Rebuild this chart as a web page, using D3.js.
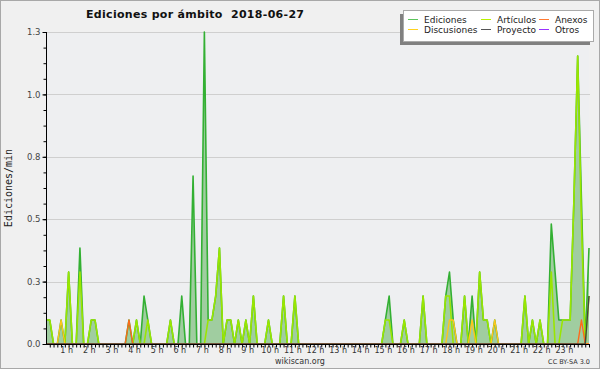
<!DOCTYPE html>
<html>
<head>
<meta charset="utf-8">
<script src="https://cdn.jsdelivr.net/npm/d3@7"></script>
<style>
  body { margin: 0; background: #fff; }
  svg { display: block; font-family: "DejaVu Sans", sans-serif; }
</style>
</head>
<body>
<svg id="chart" width="600" height="370"></svg>
<script>
// 10-minute slots, 0 h .. 24 h (145 points, 12 per row = 2 h), edits per minute
const title = "Ediciones por ámbito  2018-06-27";
const yLabel = "Ediciones/min";
const hourLabels = ["1 h","2 h","3 h","4 h","5 h","6 h","7 h","8 h","9 h","10 h","11 h","12 h",
  "13 h","14 h","15 h","16 h","17 h","18 h","19 h","20 h","21 h","22 h","23 h"];
const yTicks = [0, 0.26, 0.52, 0.78, 1.04, 1.3];

const ediciones = [
  0.1,0.1,0,0,0.1,0,0.3,0,0,0.4,0,0,
  0.1,0.1,0,0,0,0,0,0,0,0,0.1,0,
  0.1,0,0.2,0.1,0,0,0,0,0,0.1,0,0,
  0.2,0,0,0.7,0,0,1.3,0.1,0.1,0.2,0.4,0,
  0.1,0.1,0,0.1,0,0.1,0,0.2,0,0,0,0.1,
  0,0,0,0.2,0,0,0.2,0,0,0,0,0,
  0,0,0,0,0,0,0,0,0,0,0,0,
  0,0,0,0,0,0,0.1,0.2,0,0,0,0.1,
  0,0,0,0,0.2,0,0,0,0,0,0.2,0.3,
  0.1,0,0,0.2,0,0.2,0,0.3,0.1,0.1,0,0.1,
  0,0,0,0,0,0,0,0.2,0,0.1,0,0.1,
  0,0,0.5,0.3,0.1,0.1,0.1,0.1,0.6,1.2,0.6,0,
  0.4
];
const articulos = [
  0.1,0.1,0,0,0,0,0.3,0,0,0.3,0,0,
  0.1,0.1,0,0,0,0,0,0,0,0,0,0,
  0.1,0,0,0.1,0,0,0,0,0,0.1,0,0,
  0,0,0,0,0,0,0,0.1,0.1,0.2,0.4,0,
  0.1,0.1,0,0.1,0,0.1,0,0.2,0,0,0,0.1,
  0,0,0,0.2,0,0,0.2,0,0,0,0,0,
  0,0,0,0,0,0,0,0,0,0,0,0,
  0,0,0,0,0,0,0.1,0.1,0,0,0,0.1,
  0,0,0,0,0.2,0,0,0,0,0,0.2,0.2,
  0,0,0,0.2,0,0,0,0.3,0.1,0.1,0,0,
  0,0,0,0,0,0,0,0.2,0,0.1,0,0.1,
  0,0,0.3,0,0,0.1,0.1,0.1,0.6,1.2,0.5,0,
  0.2
];
const discusiones = [
  0,0,0,0,0.1,0,0,0,0,0,0,0,
  0,0,0,0,0,0,0,0,0,0,0,0,
  0,0,0,0,0,0,0,0,0,0,0,0,
  0,0,0,0,0,0,0,0,0,0,0,0,
  0,0,0,0,0,0,0,0,0,0,0,0,
  0,0,0,0,0,0,0,0,0,0,0,0,
  0,0,0,0,0,0,0,0,0,0,0,0,
  0,0,0,0,0,0,0,0,0,0,0,0,
  0,0,0,0,0,0,0,0,0,0,0,0.1,
  0.1,0,0,0,0,0.1,0,0,0,0,0,0.1,
  0,0,0,0,0,0,0,0,0,0,0,0,
  0,0,0,0,0,0,0,0,0,0,0,0,
  0
];
const anexos = [
  0,0,0,0,0,0,0,0,0,0,0,0,
  0,0,0,0,0,0,0,0,0,0,0.1,0,
  0,0,0,0,0,0,0,0,0,0,0,0,
  0,0,0,0,0,0,0,0,0,0,0,0,
  0,0,0,0,0,0,0,0,0,0,0,0,
  0,0,0,0,0,0,0,0,0,0,0,0,
  0,0,0,0,0,0,0,0,0,0,0,0,
  0,0,0,0,0,0,0,0,0,0,0,0,
  0,0,0,0,0,0,0,0,0,0,0,0,
  0,0,0,0,0,0,0,0,0,0,0,0,
  0,0,0,0,0,0,0,0,0,0,0,0,
  0,0,0,0,0,0,0,0,0,0,0.1,0,
  0
];
const proyecto = [
  0,0,0,0,0,0,0,0,0,0,0,0,
  0,0,0,0,0,0,0,0,0,0,0,0,
  0,0,0,0,0,0,0,0,0,0,0,0,
  0,0,0,0,0,0,0,0,0,0,0,0,
  0,0,0,0,0,0,0,0,0,0,0,0,
  0,0,0,0,0,0,0,0,0,0,0,0,
  0,0,0,0,0,0,0,0,0,0,0,0,
  0,0,0,0,0,0,0,0,0,0,0,0,
  0,0,0,0,0,0,0,0,0,0,0,0,
  0,0,0,0,0,0,0,0,0,0,0,0,
  0,0,0,0,0,0,0,0,0,0,0,0,
  0,0,0,0,0,0,0,0,0,0,0,0,
  0.2
];

const legendItems = [
  {name: "Ediciones",   color: "#5cc45c", col: 0, row: 0},
  {name: "Artículos",   color: "#b8f000", col: 1, row: 0},
  {name: "Anexos",      color: "#ff7a33", col: 2, row: 0},
  {name: "Discusiones", color: "#ffd21f", col: 0, row: 1},
  {name: "Proyecto",    color: "#555555", col: 1, row: 1},
  {name: "Otros",       color: "#9933ff", col: 2, row: 1}
];

const plotLeft = 46, plotRight = 589, plotTop = 32, plotBottom = 344;
const svg = d3.select("#chart");

svg.append("rect").attr("x", 0.5).attr("y", 0.5).attr("width", 599).attr("height", 368)
  .attr("fill", "#f0f0f0").attr("stroke", "#a8a8a8");
svg.append("rect").attr("x", plotLeft).attr("y", plotTop).attr("width", plotRight - plotLeft)
  .attr("height", plotBottom - plotTop).attr("fill", "#eeeff1");

let x = d3.scaleLinear().domain([0, 144]).range([plotLeft, plotRight]);
let y = d3.scaleLinear().domain([0, 1.3]).range([plotBottom, plotTop]);

// grid
svg.append("g").selectAll("line").data(yTicks.slice(1)).enter().append("line")
  .attr("x1", plotLeft).attr("x2", plotRight + 1)
  .attr("y1", d => Math.round(y(d)) + 0.5).attr("y2", d => Math.round(y(d)) + 0.5)
  .attr("stroke", "#cfcfcf");

svg.append("clipPath").attr("id", "plot").append("rect")
  .attr("x", plotLeft).attr("y", 0).attr("width", plotRight - plotLeft + 2).attr("height", plotBottom + 1);

const plot = svg.append("g").attr("clip-path", "url(#plot)");
const idx = d3.range(ediciones.length);

let area = d3.area().x(i => x(i)).y0(plotBottom).y1(i => y(ediciones[i]));
plot.append("path").attr("d", area(idx)).attr("fill", "#a0cda0");

function drawLine(values, color, w) {
  let line = d3.line().x(i => x(i)).y(i => y(values[i]));
  plot.append("path").attr("d", line(idx)).attr("fill", "none")
    .attr("stroke", color).attr("stroke-width", w).attr("stroke-linejoin", "round");
}
drawLine(ediciones, "#33b033", 1.6);
drawLine(articulos, "#9ae600", 1.6);
drawLine(discusiones, "#ffc61a", 1.4);
drawLine(anexos, "#ff6a1a", 1.4);
drawLine(proyecto, "#444444", 1.4);

// y axis
const yAxis = svg.append("g").attr("transform", `translate(${plotLeft + 0.5},0)`)
  .call(d3.axisLeft(y).tickValues(yTicks).tickFormat(d3.format(".1f")).tickSize(4).tickPadding(2));
yAxis.select(".domain").remove();
yAxis.selectAll("text").attr("font-size", 8.5).attr("fill", "#444").attr("font-family", "DejaVu Sans");
const yMinor = svg.append("g").attr("transform", `translate(${plotLeft + 0.5},0)`)
  .call(d3.axisLeft(y).tickValues(d3.range(21).map(k => k * 0.065)).tickFormat("").tickSize(3));
yMinor.select(".domain").remove();
svg.append("line").attr("x1", plotLeft + 0.5).attr("x2", plotLeft + 0.5)
  .attr("y1", plotTop).attr("y2", plotBottom + 1).attr("stroke", "#000");

// x axis
const xAxis = svg.append("g").attr("transform", `translate(0,${plotBottom + 0.5})`)
  .call(d3.axisBottom(x).tickValues(d3.range(1, 145)).tickFormat("").tickSize(3));
xAxis.select(".domain").remove();
svg.append("line").attr("x1", plotLeft).attr("x2", plotRight + 1)
  .attr("y1", plotBottom + 0.5).attr("y2", plotBottom + 0.5).attr("stroke", "#000");
svg.append("g").selectAll("text").data(hourLabels).enter().append("text")
  .attr("x", (d, i) => x((i + 1) * 6) - 2).attr("y", 353)
  .attr("text-anchor", "middle").attr("font-size", 8).attr("fill", "#333").text(d => d);

// titles
svg.append("text").attr("x", 86).attr("y", 18).attr("font-size", 11).attr("font-weight", "bold")
  .attr("letter-spacing", 0.3).attr("fill", "#111").style("white-space", "pre").text(title);
svg.append("text").attr("transform", "translate(12,188) rotate(-90)").attr("text-anchor", "middle")
  .attr("font-size", 10).attr("font-family", "DejaVu Sans Mono").attr("fill", "#222").text(yLabel);
svg.append("text").attr("x", 300).attr("y", 364).attr("text-anchor", "middle")
  .attr("font-size", 8).attr("fill", "#333").text("wikiscan.org");
svg.append("text").attr("x", 590).attr("y", 364).attr("text-anchor", "end")
  .attr("font-size", 6.5).attr("fill", "#333").text("CC BY-SA  3.0");

// legend
svg.append("rect").attr("x", 400).attr("y", 14).attr("width", 190).attr("height", 31).attr("fill", "#808080");
svg.append("rect").attr("x", 403.5).attr("y", 10.5).attr("width", 190).attr("height", 31)
  .attr("fill", "#fff").attr("stroke", "#aaa");
const colX = [408, 481, 539];
let legendElem = svg.append("g").selectAll("g").data(legendItems).enter().append("g")
  .attr("transform", d => `translate(${colX[d.col]},${19 + d.row * 10})`);
legendElem.append("line").attr("x1", 0).attr("x2", 10).attr("y1", 0.5).attr("y2", 0.5)
  .attr("stroke", d => d.color);
legendElem.append("text").attr("x", 16).attr("y", 3.5).attr("font-size", 9).attr("fill", "#222")
  .text(d => d.name);
</script>
</body>
</html>
